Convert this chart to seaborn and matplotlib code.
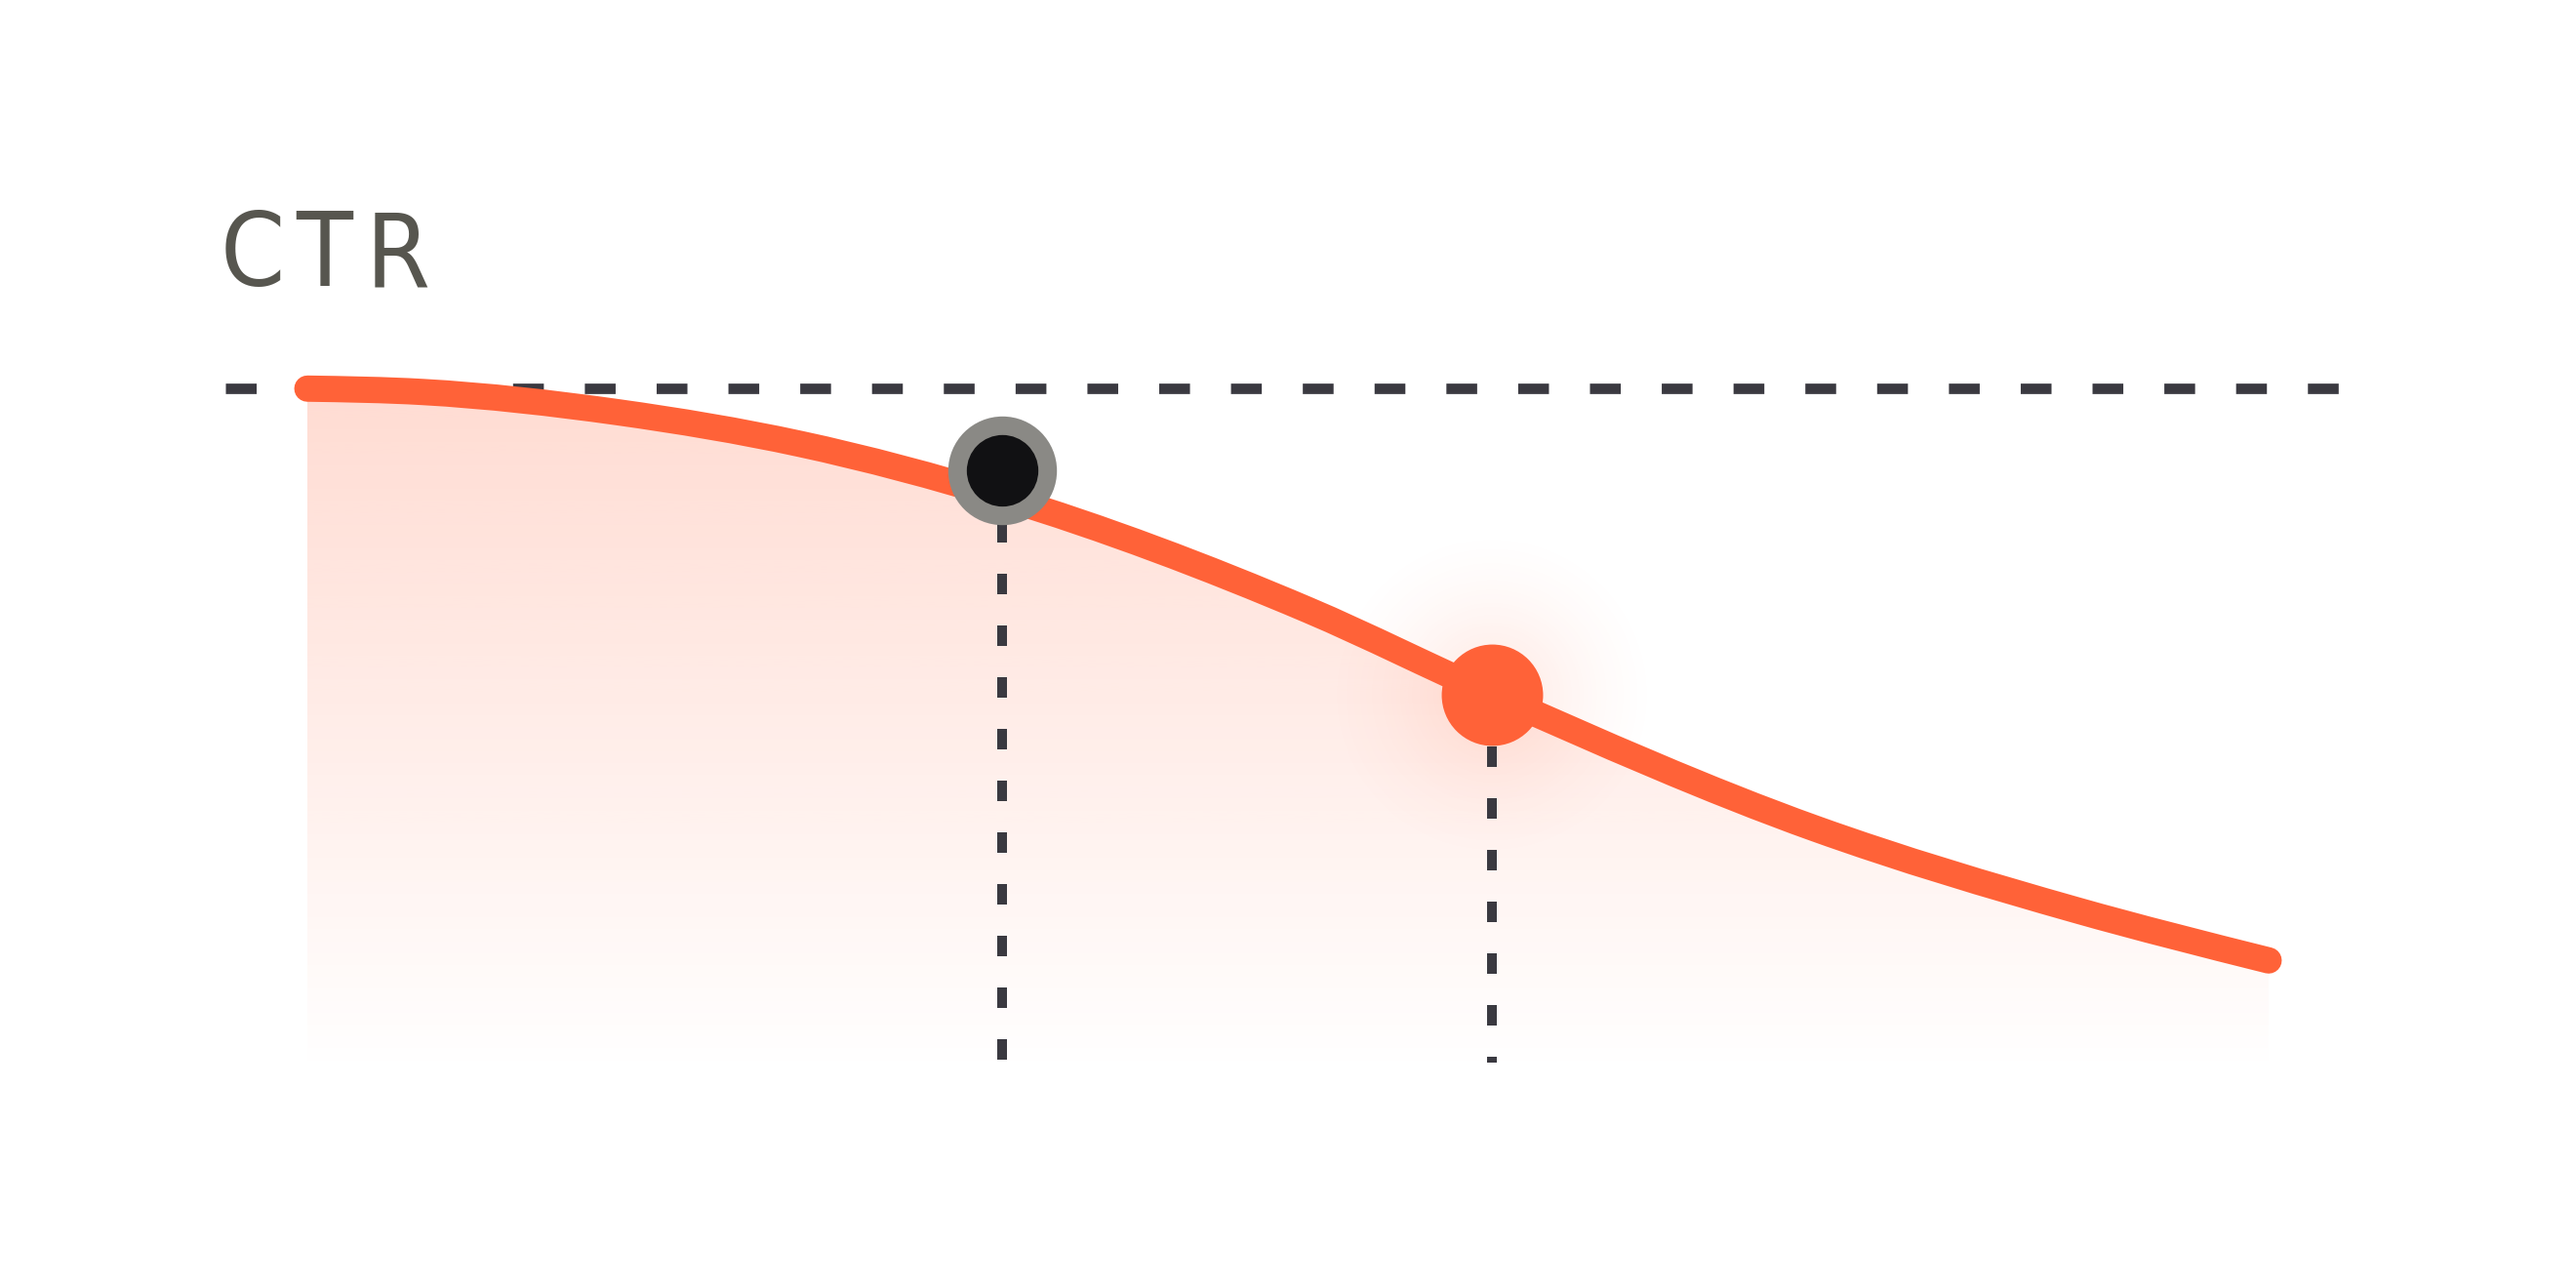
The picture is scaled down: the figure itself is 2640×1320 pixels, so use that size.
import numpy as np
import matplotlib
matplotlib.use("Agg")
import matplotlib.pyplot as plt
from matplotlib import font_manager
from matplotlib.path import Path
from matplotlib.patches import PathPatch
import seaborn as sns

# values: x = position along the period (0-100), ctr in %
x_pos = [0, 5.87, 15.82, 25.12, 35.44, 51.0, 60.41, 76.87, 90.15, 100]
ctr = [5.000, 4.975, 4.825, 4.590, 4.195, 3.359, 2.731, 1.737, 1.133, 0.758]

baseline_ctr = 5.0          # dashed reference line
current_x, current_ctr = 35.43, 4.396   # grey ringed dot
target_x, target_ctr = 60.41, 2.731     # orange dot
title = "CTR"

ORANGE = "#ff6238"
DASH = "#3a3940"
TEXT = "#57564f"


def monotone_curve(xs, ys):
    # bezier segments with monotone tangents (same rule as d3 curveMonotoneX)
    xs = np.asarray(xs, float)
    ys = np.asarray(ys, float)
    h = np.diff(xs)
    d = np.diff(ys) / h
    m = np.zeros_like(xs)
    for i in range(1, len(xs) - 1):
        p = (d[i - 1] * h[i] + d[i] * h[i - 1]) / (h[i - 1] + h[i])
        s = np.sign(d[i - 1]) + np.sign(d[i])
        m[i] = s * min(abs(d[i - 1]), abs(d[i]), 0.5 * abs(p))
    m[0] = (3 * d[0] - m[1]) / 2
    m[-1] = (3 * d[-1] - m[-2]) / 2
    verts = [(xs[0], ys[0])]
    codes = [Path.MOVETO]
    for i in range(len(xs) - 1):
        verts += [(xs[i] + h[i] / 3, ys[i] + m[i] * h[i] / 3),
                  (xs[i + 1] - h[i] / 3, ys[i + 1] - m[i + 1] * h[i] / 3),
                  (xs[i + 1], ys[i + 1])]
        codes += [Path.CURVE4] * 3
    return verts, codes


sns.set_theme(style="white")

fig = plt.figure(figsize=(13.2, 6.6), dpi=200)
fig.patch.set_facecolor("white")
ax = fig.add_axes([0, 0, 1, 1])
ax.set_facecolor("white")
ax.axis("off")

verts, codes = monotone_curve(x_pos, ctr)

# gradient fill under the curve
area = Path(verts + [(x_pos[-1], -0.08), (x_pos[0], -0.08), (x_pos[0], ctr[0])],
            codes + [Path.LINETO, Path.LINETO, Path.CLOSEPOLY])
grad = np.zeros((300, 1, 4))
grad[..., 0], grad[..., 1], grad[..., 2] = 1.0, 98 / 255, 56 / 255
grad[:, 0, 3] = np.linspace(0.225, 0.0, 300)
im = ax.imshow(grad, extent=(x_pos[0], x_pos[-1], -0.08, baseline_ctr),
               aspect="auto", origin="upper", zorder=1, interpolation="bilinear")
im.set_clip_path(area, transform=ax.transData)

# soft glow round the orange dot
n = 201
u = np.linspace(-1, 1, n)
uu, vv = np.meshgrid(u, u)
r = np.sqrt(uu ** 2 + vv ** 2)
glow = np.zeros((n, n, 4))
glow[..., 0], glow[..., 1], glow[..., 2] = 1.0, 98 / 255, 56 / 255
glow[..., 3] = 0.16 * np.clip(1 - r, 0, 1) ** 1.6
ax.imshow(glow, extent=(target_x - 8.8, target_x + 8.8,
                        target_ctr - 1.28, target_ctr + 1.28),
          aspect="auto", zorder=2, interpolation="bilinear")

# reference line at the starting CTR
ax.plot([-4.18, 103.88], [baseline_ctr, baseline_ctr], color=DASH, lw=3.85,
        dashes=(2.95, 3.93), dash_capstyle="butt", zorder=3)

# drop lines from the two marked points
for px, py in [(current_x, current_ctr), (target_x, target_ctr)]:
    ax.plot([px, px], [py, 0], color=DASH, lw=3.6, dashes=(2.1, 3.2),
            dash_capstyle="butt", zorder=3)

# the CTR curve
line = PathPatch(Path(verts, codes), fill=False, edgecolor=ORANGE, lw=9.7,
                 capstyle="round", joinstyle="round", transform=ax.transData,
                 zorder=4)
ax.add_patch(line)

# marked points
sns.scatterplot(x=[current_x], y=[current_ctr], ax=ax, s=40.1 ** 2,
                color="#8a8985", linewidth=0, zorder=5)
sns.scatterplot(x=[current_x], y=[current_ctr], ax=ax, s=26.4 ** 2,
                color="#111113", linewidth=0, zorder=6)
sns.scatterplot(x=[target_x], y=[target_ctr], ax=ax, s=37.4 ** 2,
                color=ORANGE, linewidth=0, zorder=6)

ax.set_xlim(-15.672, 115.672)
ax.set_ylim(-1.672, 7.883)
ax.axis("off")

# title letters, spaced out, in the condensed DejaVu face when present
cond = [f.fname for f in font_manager.fontManager.ttflist
        if f.fname.endswith("DejaVuSansCondensed.ttf")]
if cond:
    fprop = font_manager.FontProperties(fname=cond[0], size=38)
else:
    fprop = font_manager.FontProperties(family="DejaVu Sans", size=36)
letter_cx = [259, 332, 408]
for ch, lx in zip(title, letter_cx):
    fig.text(lx / 2640, 1 - 293 / 1320, ch, fontproperties=fprop, color=TEXT,
             ha="center", va="baseline")

fig.savefig("out.png", dpi=200, facecolor="white")
